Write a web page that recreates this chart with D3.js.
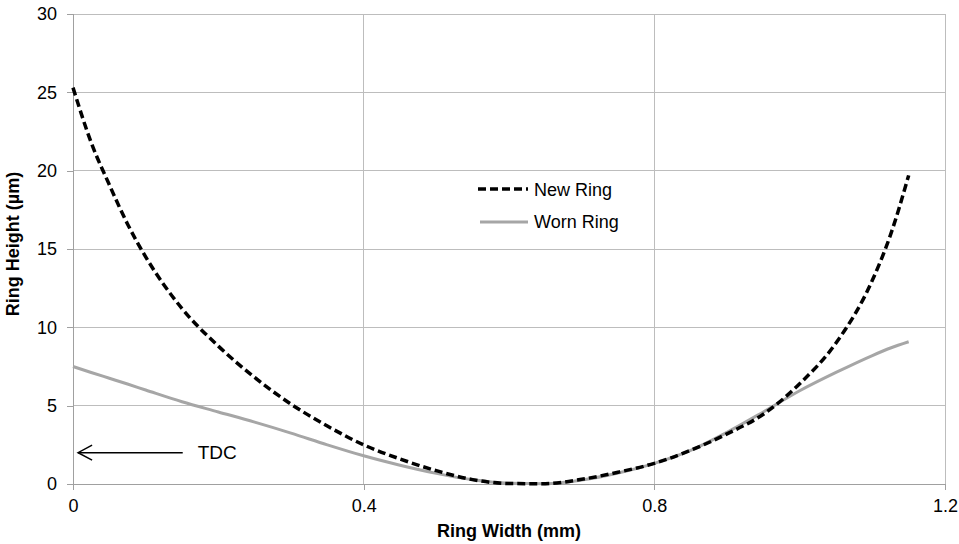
<!DOCTYPE html>
<html>
<head>
<meta charset="utf-8">
<script src="https://cdn.jsdelivr.net/npm/d3@7"></script>
<style>
  body { margin: 0; background: #fff; }
  svg { font-family: "Liberation Sans", Arial, sans-serif; }
</style>
</head>
<body>
<svg id="chart" width="959" height="544"></svg>
<script>
const width = 959
const height = 544
const margin = { top: 14, right: 14, bottom: 60, left: 73 }

// ring width positions (mm)
const ringWidth = [0, 0.025, 0.05, 0.075, 0.1, 0.15, 0.2, 0.25, 0.3, 0.35, 0.4, 0.45, 0.5, 0.55,
  0.6, 0.65, 0.7, 0.75, 0.8, 0.85, 0.9, 0.95, 1.0, 1.05, 1.1, 1.125, 1.15]
// ring height (um)
const newRing = [25.3, 21.8, 19.1, 16.6, 14.5, 11.2, 8.8, 6.8, 5.1, 3.7, 2.5, 1.6, 0.85, 0.28,
  0.03, 0.02, 0.3, 0.75, 1.32, 2.15, 3.2, 4.45, 6.4, 9.0, 13.0, 15.9, 19.7]
const wornRing = [7.5, 7.12, 6.75, 6.38, 6.0, 5.25, 4.6, 3.95, 3.25, 2.5, 1.8, 1.2, 0.68, 0.27,
  0.05, 0.02, 0.25, 0.7, 1.32, 2.15, 3.3, 4.6, 5.95, 7.12, 8.2, 8.68, 9.08]

const xTicks = [0, 0.4, 0.8, 1.2]
const yTicks = [0, 5, 10, 15, 20, 25, 30]
const tdc = { label: 'TDC', y: 2, from: 0.151, to: 0.007 }

const svg = d3.select('#chart')

const x = d3.scaleLinear().domain([0, 1.2]).range([margin.left, width - margin.right])
const y = d3.scaleLinear().domain([0, 30]).range([height - margin.bottom, margin.top])

// grid
svg.append('g')
  .selectAll('line')
  .data(yTicks.slice(1))
  .join('line')
  .attr('x1', x(0)).attr('x2', x(1.2))
  .attr('y1', d => y(d)).attr('y2', d => y(d))
  .attr('stroke', '#bdbdbd').attr('stroke-width', 1)
  .attr('shape-rendering', 'crispEdges')
svg.append('g')
  .selectAll('line')
  .data(xTicks.slice(1))
  .join('line')
  .attr('x1', d => x(d)).attr('x2', d => x(d))
  .attr('y1', y(0)).attr('y2', y(30))
  .attr('stroke', '#bdbdbd').attr('stroke-width', 1)
  .attr('shape-rendering', 'crispEdges')

// axes
const xAxis = svg.append('g')
  .attr('transform', `translate(0,${y(0)})`)
  .call(d3.axisBottom(x).tickValues(xTicks).tickSize(6).tickPadding(9)
    .tickFormat(d => d === 0 ? '0' : d3.format('.1f')(d)))
const yAxis = svg.append('g')
  .attr('transform', `translate(${x(0)},0)`)
  .call(d3.axisLeft(y).tickValues(yTicks).tickSize(6).tickPadding(10))
for (const g of [xAxis, yAxis]) {
  g.select('.domain').attr('stroke', '#a0a0a0').attr('shape-rendering', 'crispEdges')
  g.selectAll('.tick line').attr('stroke', '#a0a0a0').attr('shape-rendering', 'crispEdges')
  g.selectAll('.tick text').attr('font-size', 18).attr('fill', '#000')
    .attr('font-family', '"Liberation Sans", Arial, sans-serif')
}

// axis titles
svg.append('text')
  .attr('x', 509).attr('y', 537)
  .attr('text-anchor', 'middle')
  .attr('font-size', 18).attr('font-weight', 'bold')
  .text('Ring Width (mm)')
svg.append('text')
  .attr('transform', `translate(19,244) rotate(-90)`)
  .attr('text-anchor', 'middle')
  .attr('font-size', 18).attr('font-weight', 'bold')
  .text('Ring Height (µm)')

// series
const line = d3.line()
  .x((d, i) => x(ringWidth[i]))
  .y(d => y(d))
  .curve(d3.curveMonotoneX)

svg.append('path')
  .datum(wornRing)
  .attr('d', line)
  .attr('fill', 'none')
  .attr('stroke', '#a6a6a6')
  .attr('stroke-width', 3)

svg.append('path')
  .datum(newRing)
  .attr('d', line)
  .attr('fill', 'none')
  .attr('stroke', '#000')
  .attr('stroke-width', 3.5)
  .attr('stroke-dasharray', '8,4')

// TDC annotation
const ay = y(tdc.y)
svg.append('line')
  .attr('x1', x(tdc.from)).attr('x2', x(tdc.to))
  .attr('y1', ay).attr('y2', ay)
  .attr('stroke', '#000').attr('stroke-width', 1.5)
svg.append('path')
  .attr('d', `M${x(tdc.to) + 14},${ay - 7.5}L${x(tdc.to)},${ay}L${x(tdc.to) + 14},${ay + 7.5}`)
  .attr('fill', 'none').attr('stroke', '#000').attr('stroke-width', 1.5)
svg.append('text')
  .attr('x', x(tdc.from) + 15).attr('y', ay + 6.5)
  .attr('font-size', 19)
  .text(tdc.label)

// legend
const legend = svg.append('g').attr('transform', 'translate(478,189)')
legend.append('line')
  .attr('x1', 0).attr('x2', 50).attr('y1', 0).attr('y2', 0)
  .attr('stroke', '#000').attr('stroke-width', 3.5).attr('stroke-dasharray', '8,4')
legend.append('text').attr('x', 56).attr('y', 7).attr('font-size', 18).text('New Ring')
legend.append('line')
  .attr('x1', 2).attr('x2', 50).attr('y1', 33).attr('y2', 33)
  .attr('stroke', '#a6a6a6').attr('stroke-width', 3)
legend.append('text').attr('x', 56).attr('y', 39).attr('font-size', 18).text('Worn Ring')
</script>
</body>
</html>
